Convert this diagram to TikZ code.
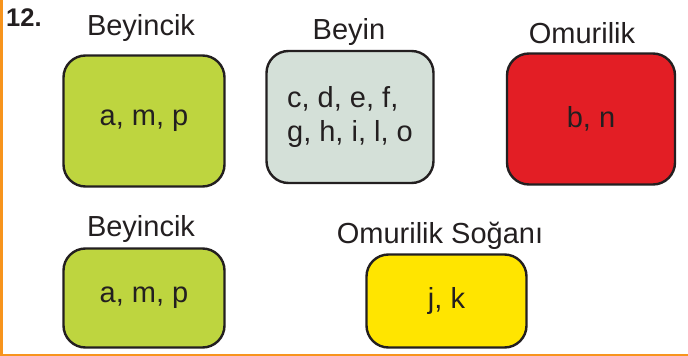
\documentclass[tikz,border=0pt]{standalone}
\usepackage{fontspec}
\setmainfont{Liberation Sans}
\definecolor{txt}{HTML}{231F20}
\definecolor{cgreen}{HTML}{BED53F}
\definecolor{cgrey}{HTML}{D4E0D8}
\definecolor{cred}{HTML}{E31E25}
\definecolor{cyellow}{HTML}{FFE500}
\definecolor{corange}{HTML}{F7941D}
\begin{document}
\begin{tikzpicture}[x=1pt,y=-1pt,
  box/.style={draw=txt,line width=2.4pt,rounded corners=22pt,inner sep=0pt,text=txt,
    font=\fontsize{29}{34}\selectfont},
  lbl/.style={anchor=base,text=txt,inner sep=0pt,font=\fontsize{29}{34}\selectfont}]
\useasboundingbox (0,0) rectangle (688,356);
\fill[white] (0,0) rectangle (688,356);
\draw[corange,line width=2.5pt] (1.5,0) -- (1.5,355) coordinate (corner) -- (688,355);
\node[anchor=base west,inner sep=0pt,text=txt,font=\fontsize{25.5}{28}\bfseries] (num) at (6,26) {12.};
% boxes
\node[box,fill=cgreen,minimum width=161pt,minimum height=131pt] (b1) at (144,121) {a, m, p};
\node[box,fill=cgrey,minimum width=167pt,minimum height=132pt,align=left] (b2) at (350,117) {c, d, e, f,\\g, h, i, l, o};
\node[box,fill=cred,minimum width=168pt,minimum height=131pt] (b3) at (591,119) {b, n};
\node[box,fill=cgreen,minimum width=161pt,minimum height=99pt] (b4) at (144,298) {a, m, p};
\node[box,fill=cyellow,minimum width=160pt,minimum height=93pt] (b5) at (446.5,301) {j, k};
% labels
\node[lbl] (l1) at (141,35) {Beyincik};
\node[lbl] (l2) at (349,39) {Beyin};
\node[lbl] (l3) at (582,43) {Omurilik};
\node[lbl] (l4) at (141,236) {Beyincik};
\node[lbl] (l5) at (440,243) {Omurilik Soğanı};
\end{tikzpicture}
\end{document}
